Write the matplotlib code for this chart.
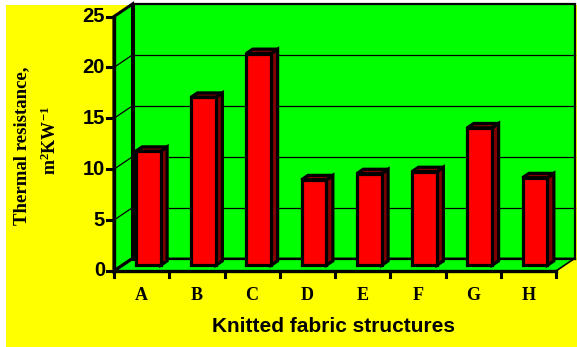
import matplotlib
matplotlib.use("Agg")
import matplotlib.pyplot as plt
from matplotlib.patches import Polygon, Rectangle

# Thermal resistance per knitted structure
categories = ["A", "B", "C", "D", "E", "F", "G", "H"]
resistance = [11.2, 16.5, 20.8, 8.4, 9.0, 9.2, 13.5, 8.6]
y_ticks = [0, 5, 10, 15, 20, 25]

plt.rcParams["mathtext.fontset"] = "custom"
plt.rcParams["mathtext.rm"] = "Liberation Serif:bold"
plt.rcParams["mathtext.it"] = "Liberation Serif:bold"
plt.rcParams["mathtext.bf"] = "Liberation Serif:bold"

GREEN = "#00FF00"
YELLOW = "#FFFF00"
RED = "#FF0000"
DARK_RED = "#800000"

W, H = 577, 347
fig = plt.figure(figsize=(W / 100, H / 100), dpi=100)
fig.patch.set_facecolor("white")
fig.add_artist(Rectangle((6 / W, 0), (W - 6) / W, (H - 5) / H,
                         transform=fig.transFigure, facecolor=YELLOW,
                         edgecolor="none", zorder=-5))

ax = fig.add_axes([0, 0, 1, 1])
ax.set_axis_off()

# oblique "3-D" frame: front origin, category width and value scale in pixels
ox, oy = 114, H - 271
cat_px = 55.25
unit_px = 10.18
ax.set_xlim(-ox / cat_px, (W - ox) / cat_px)
ax.set_ylim(-oy / unit_px, (H - oy) / unit_px)

n = len(categories)
ymax = y_ticks[-1]
ddx, ddy = 18.5 / cat_px, 12.5 / unit_px   # depth vector of the plot box

# walls and floor
ax.add_patch(Polygon([(ddx, ddy), (n + ddx, ddy), (n + ddx, ymax + ddy), (ddx, ymax + ddy)],
                     closed=True, facecolor=GREEN, edgecolor="black", lw=1.6, zorder=1))
ax.add_patch(Polygon([(0, 0), (ddx, ddy), (ddx, ymax + ddy), (0, ymax)],
                     closed=True, facecolor=GREEN, edgecolor="black", lw=2.2, zorder=1))
ax.add_patch(Polygon([(0, 0), (n, 0), (n + ddx, ddy), (ddx, ddy)],
                     closed=True, facecolor=GREEN, edgecolor="black", lw=1.2, zorder=1))

# gridlines on back and side walls
for t in y_ticks[1:-1]:
    ax.plot([ddx, n + ddx], [t + ddy, t + ddy], color="black", lw=0.9, zorder=2)
    ax.plot([0, ddx], [t, t + ddy], color="black", lw=0.9, zorder=2)
ax.plot([0, ddx], [0, ddy], color="black", lw=2.2, zorder=2)
ax.plot([ddx, n + ddx], [ddy, ddy], color="black", lw=1.6, zorder=2)
ax.plot([ddx, ddx], [ddy, ymax + ddy], color="black", lw=2.2, zorder=2)

# bars
f0, bd = 0.46, 0.35
gap, bw = 0.24, 0.45
ex, ey = bd * ddx, bd * ddy
for i, v in enumerate(resistance):
    x0 = i + gap + f0 * ddx
    y0 = f0 * ddy
    side = [(x0 + bw, y0), (x0 + bw + ex, y0 + ey), (x0 + bw + ex, y0 + v + ey), (x0 + bw, y0 + v)]
    top = [(x0, y0 + v), (x0 + bw, y0 + v), (x0 + bw + ex, y0 + v + ey), (x0 + ex, y0 + v + ey)]
    front = [(x0, y0), (x0 + bw, y0), (x0 + bw, y0 + v), (x0, y0 + v)]
    for pts, fc in ((side, DARK_RED), (top, DARK_RED), (front, RED)):
        ax.add_patch(Polygon(pts, closed=True, facecolor=fc, edgecolor="black",
                             lw=2.3, joinstyle="miter", zorder=3))

# front axes
ax.plot([0, 0], [0, ymax], color="black", lw=2.4, zorder=4, solid_capstyle="projecting")
ax.plot([0, n], [0, 0], color="black", lw=2.4, zorder=4, solid_capstyle="projecting")

tick_x = 7 / cat_px
for t in y_ticks:
    ax.plot([-tick_x, 0], [t, t], color="black", lw=2.2, zorder=4)
    ax.text(-9 / cat_px, t, str(t), ha="right", va="center", fontsize=14.5,
            fontweight="bold", family="Liberation Sans", zorder=5)

tick_y = 6 / unit_px
for i in range(n + 1):
    ax.plot([i, i], [0, -tick_y], color="black", lw=2.2, zorder=4)
for i, c in enumerate(categories):
    ax.text(i + 0.5, -24 / unit_px, c, ha="center", va="center", fontsize=13,
            fontweight="bold", family="Liberation Serif")

ax.text(n / 2 - 0.03, -56 / unit_px, "Knitted fabric structures", ha="center", va="center",
        fontsize=15, fontweight="bold", family="Liberation Sans")

ax.text((22 - ox) / cat_px, (H - 146 - oy) / unit_px, "Thermal resistance,",
        rotation=90, ha="center", va="center", fontsize=13.5, fontweight="bold",
        family="Liberation Serif")
ax.text((50 - ox) / cat_px, (H - 141 - oy) / unit_px, r"m$^{2}$KW$^{-1}$",
        rotation=90, ha="center", va="center", fontsize=13, fontweight="bold",
        family="Liberation Serif")

fig.savefig("out.png", dpi=100)
